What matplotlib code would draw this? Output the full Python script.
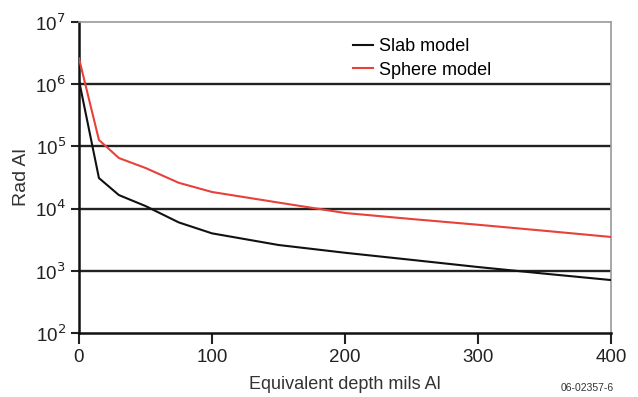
import matplotlib
matplotlib.use("Agg")
import matplotlib.pyplot as plt
from matplotlib.ticker import NullLocator, FixedLocator

plt.rcParams['font.family'] = ['Liberation Sans', 'DejaVu Sans']

depth = [0, 15, 30, 50, 75, 100, 150, 200, 250, 300, 350, 400]
slab = [1.15e6, 3.1e4, 1.65e4, 1.1e4, 6.0e3, 4.0e3, 2.6e3, 1.95e3, 1.5e3, 1.15e3, 9.0e2, 7.1e2]
sphere = [2.6e6, 1.27e5, 6.5e4, 4.5e4, 2.6e4, 1.85e4, 1.25e4, 8.5e3, 6.8e3, 5.5e3, 4.4e3, 3.5e3]
y_ticks = [1e2, 1e3, 1e4, 1e5, 1e6, 1e7]
x_ticks = [0, 100, 200, 300, 400]

fig = plt.figure(figsize=(6.38, 3.97), dpi=100)
ax = fig.add_axes([0.1238, 0.1612, 0.8339, 0.7834])
ax.set_yscale('log')
ax.set_xlim(0, 400)
ax.set_ylim(1e2, 1e7)

for yv in y_ticks[1:-1]:
    ax.axhline(yv, color='#222222', lw=1.7, zorder=1)

ax.plot(depth, slab, color='#111111', lw=1.5, label='Slab model', zorder=3)
ax.plot(depth, sphere, color='#e8403a', lw=1.5, label='Sphere model', zorder=3)

ax.yaxis.set_major_locator(FixedLocator(y_ticks))
ax.yaxis.set_minor_locator(NullLocator())
ax.set_yticklabels([r'10$^{%d}$' % i for i in range(2, 8)])
ax.set_xticks(x_ticks)
ax.tick_params(axis='both', labelsize=13.5, colors='#222222', length=6, width=1.5, direction='out')
ax.tick_params(axis='x', length=8)

for s in ['left', 'bottom']:
    ax.spines[s].set_color('#111111')
    ax.spines[s].set_linewidth(1.8)
for s in ['top', 'right']:
    ax.spines[s].set_color('#999999')
    ax.spines[s].set_linewidth(1.2)

ax.set_xlabel('Equivalent depth mils Al', fontsize=13, color='#333333', labelpad=7)
ax.set_ylabel('Rad Al', fontsize=14, color='#333333', labelpad=4)

leg = ax.legend(loc='upper left', bbox_to_anchor=(0.485, 1.0), frameon=False, fontsize=13,
                handlelength=1.1, handletextpad=0.3, labelspacing=0.35)

fig.text(0.962, 0.01, '06-02357-6', fontsize=7.5, color='#333333', ha='right', va='bottom')

fig.savefig('out.png', dpi=100)
